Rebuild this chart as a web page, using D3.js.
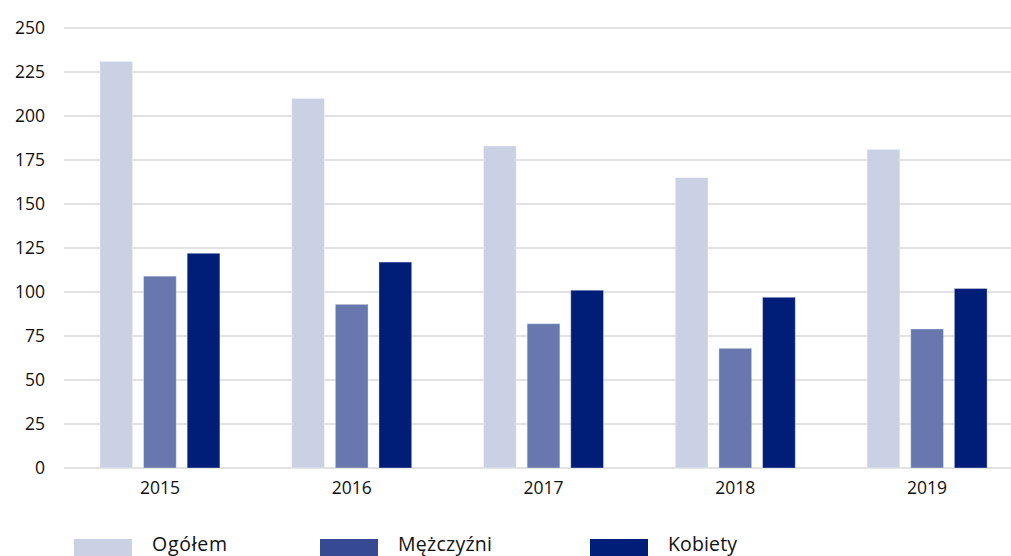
<!DOCTYPE html>
<html>
<head>
<meta charset="utf-8">
<script src="https://cdn.jsdelivr.net/npm/d3@7"></script>
<style>
  body { margin: 0; background: #fff; }
  text { font-family: "Open Sans", "Noto Sans", sans-serif; fill: #111; }
</style>
</head>
<body>
<div class="container"></div>
<script>
const WIDTH = 1011;
const HEIGHT = 556;

var years = ['2015', '2016', '2017', '2018', '2019'];
var seriesNames = ['Ogółem', 'Mężczyźni', 'Kobiety'];
var ogolem = [231, 210, 183, 165, 181];
var mezczyzni = [109, 93, 82, 68, 79];
var kobiety = [122, 117, 101, 97, 102];
var yTicks = [0, 25, 50, 75, 100, 125, 150, 175, 200, 225, 250];

var barColors = ['#cbd1e4', '#6878ae', '#001e78'];
var legendColors = ['#cbd1e4', '#354a92', '#001e78'];

var seriesValues = [ogolem, mezczyzni, kobiety];

var xScale = d3.scaleBand()
    .domain(years)
    .range([64, 1023]);

// bars inside one year group
var inner = d3.scaleBand()
    .domain(seriesNames)
    .range([xScale.bandwidth() / 2 - 60, xScale.bandwidth() / 2 + 60])
    .paddingInner(0.25);

var yScale = d3.scaleLinear()
    .domain([0, 250])
    .range([468, 28]);

var svg = d3.select('.container').append('svg')
    .attr('width', WIDTH)
    .attr('height', HEIGHT);

// grid lines
svg.append('g').selectAll('line').data(yTicks)
    .enter().append('line')
    .attr('x1', 64)
    .attr('x2', WIDTH)
    .attr('y1', function (d) { return yScale(d); })
    .attr('y2', function (d) { return yScale(d); })
    .attr('stroke', '#d9d9d9')
    .attr('stroke-width', 1.5);

var yAxis = d3.axisLeft(yScale).tickValues(yTicks).tickSize(0).tickPadding(0);
var ya = svg.append('g')
    .attr('transform', 'translate(45,0)')
    .call(yAxis);
ya.select('.domain').remove();
ya.selectAll('text')
    .attr('font-size', 17.5)
    .attr('font-family', '"Open Sans", sans-serif')
    .attr('fill', '#111');

var xAxis = d3.axisBottom(xScale).tickSize(0).tickPadding(0);
var xa = svg.append('g')
    .attr('transform', 'translate(0,482)')
    .call(xAxis);
xa.select('.domain').remove();
xa.selectAll('text')
    .attr('font-size', 17.5)
    .attr('font-family', '"Open Sans", sans-serif')
    .attr('fill', '#111');

seriesNames.forEach(function (name, si) {
    svg.append('g').selectAll('rect').data(seriesValues[si])
        .enter().append('rect')
        .attr('x', function (d, i) { return xScale(years[i]) + inner(name); })
        .attr('width', inner.bandwidth())
        .attr('y', function (d) { return yScale(d); })
        .attr('height', function (d) { return yScale(0) - yScale(d); })
        .attr('fill', barColors[si])
        .attr('stroke', 'rgba(255,255,255,0.35)')
        .attr('stroke-width', 1);
});

// legend
var legendX = [74, 320, 590];
var legend = svg.append('g');
seriesNames.forEach(function (name, i) {
    legend.append('rect')
        .attr('x', legendX[i])
        .attr('y', 539)
        .attr('width', 58)
        .attr('height', 22)
        .attr('fill', legendColors[i]);
    legend.append('text')
        .attr('x', legendX[i] + 78)
        .attr('y', 551)
        .attr('font-size', 19.5)
        .attr('font-family', '"Noto Sans", sans-serif')
        .attr('textLength', [75, 94, 69][i])
        .text(name);
});
</script>
</body>
</html>
